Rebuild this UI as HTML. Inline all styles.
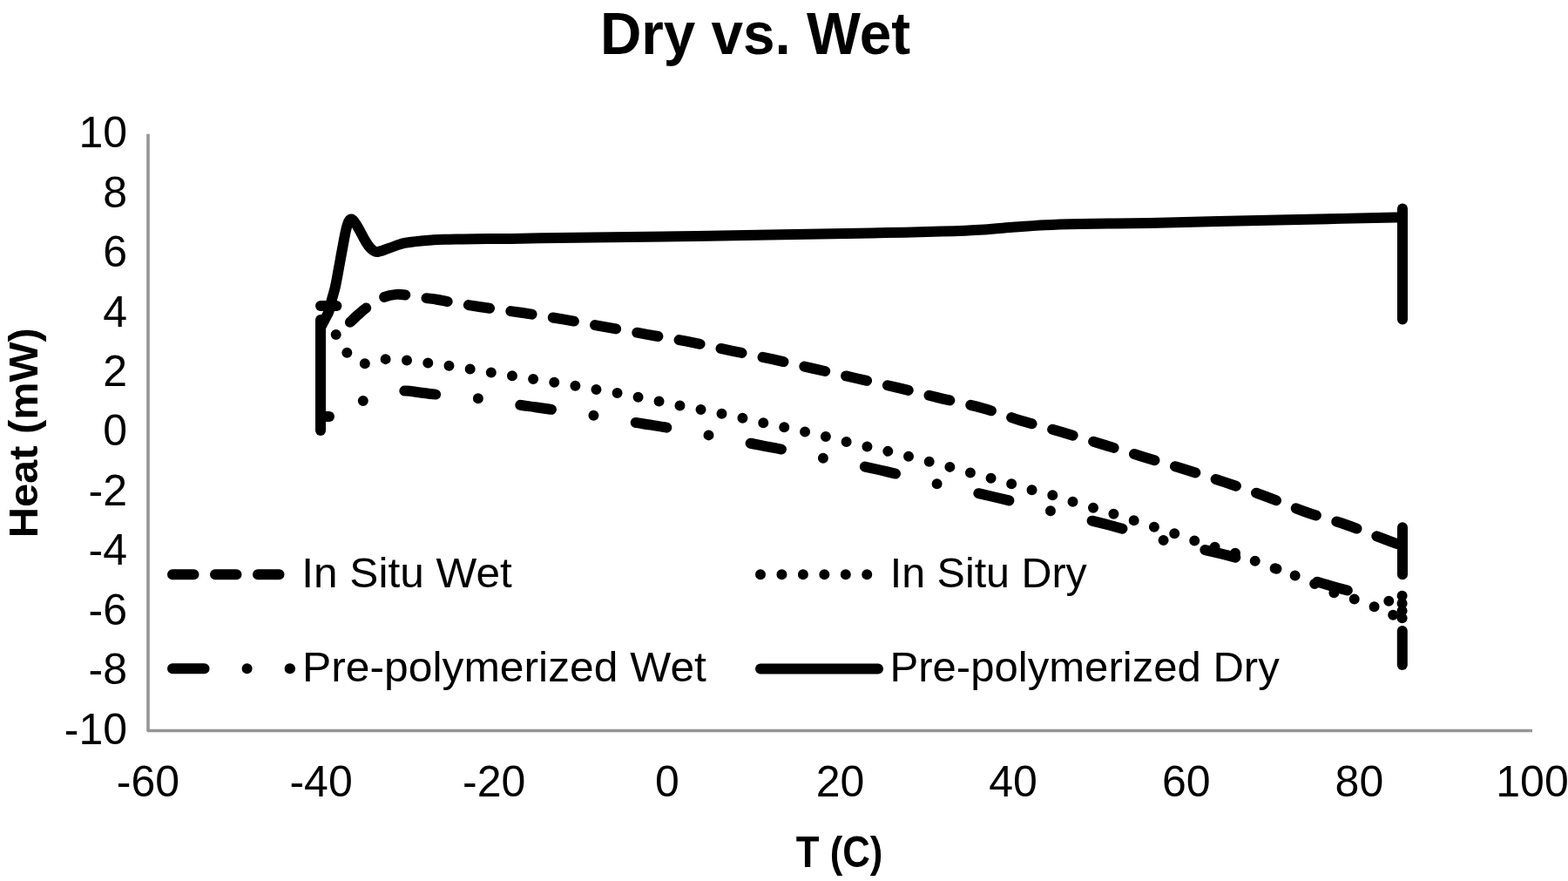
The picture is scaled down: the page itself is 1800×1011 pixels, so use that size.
<!DOCTYPE html>
<html><head><meta charset="utf-8"><title>Dry vs. Wet</title>
<style>html,body{margin:0;padding:0;background:#fff;width:1800px;height:1011px;overflow:hidden}svg{display:block}</style>
</head><body>
<svg width="1800" height="1011" viewBox="0 0 1800 1011">
<rect width="1800" height="1011" fill="#fff"/>
<path d="M170,153.7 L170,838.5 L1759,838.5" fill="none" stroke="#959595" stroke-width="3.6" stroke-linejoin="round"/>
<text id="title" x="867.0" y="62.0" style="font-family:'Liberation Sans',Arial,sans-serif;font-weight:bold;font-size:68.50px" text-anchor="middle" textLength="356.1" lengthAdjust="spacingAndGlyphs">Dry vs. Wet</text>
<text id="yl10" x="146.0" y="169.2" style="font-family:'Liberation Sans',Arial,sans-serif;font-size:50.00px" text-anchor="end">10</text>
<text id="yl8" x="146.0" y="237.6" style="font-family:'Liberation Sans',Arial,sans-serif;font-size:50.00px" text-anchor="end">8</text>
<text id="yl6" x="146.0" y="306.1" style="font-family:'Liberation Sans',Arial,sans-serif;font-size:50.00px" text-anchor="end">6</text>
<text id="yl4" x="146.0" y="374.5" style="font-family:'Liberation Sans',Arial,sans-serif;font-size:50.00px" text-anchor="end">4</text>
<text id="yl2" x="146.0" y="443.0" style="font-family:'Liberation Sans',Arial,sans-serif;font-size:50.00px" text-anchor="end">2</text>
<text id="yl0" x="146.0" y="511.4" style="font-family:'Liberation Sans',Arial,sans-serif;font-size:50.00px" text-anchor="end">0</text>
<text id="ylm2" x="146.0" y="579.8" style="font-family:'Liberation Sans',Arial,sans-serif;font-size:50.00px" text-anchor="end">-2</text>
<text id="ylm4" x="146.0" y="648.3" style="font-family:'Liberation Sans',Arial,sans-serif;font-size:50.00px" text-anchor="end">-4</text>
<text id="ylm6" x="146.0" y="716.7" style="font-family:'Liberation Sans',Arial,sans-serif;font-size:50.00px" text-anchor="end">-6</text>
<text id="ylm8" x="146.0" y="785.2" style="font-family:'Liberation Sans',Arial,sans-serif;font-size:50.00px" text-anchor="end">-8</text>
<text id="ylm10" x="146.0" y="853.6" style="font-family:'Liberation Sans',Arial,sans-serif;font-size:50.00px" text-anchor="end">-10</text>
<text id="xlm60" x="170.0" y="913.6" style="font-family:'Liberation Sans',Arial,sans-serif;font-size:50.00px" text-anchor="middle">-60</text>
<text id="xlm40" x="368.6" y="913.6" style="font-family:'Liberation Sans',Arial,sans-serif;font-size:50.00px" text-anchor="middle">-40</text>
<text id="xlm20" x="567.2" y="913.6" style="font-family:'Liberation Sans',Arial,sans-serif;font-size:50.00px" text-anchor="middle">-20</text>
<text id="xl0" x="765.9" y="913.6" style="font-family:'Liberation Sans',Arial,sans-serif;font-size:50.00px" text-anchor="middle">0</text>
<text id="xl20" x="964.5" y="913.6" style="font-family:'Liberation Sans',Arial,sans-serif;font-size:50.00px" text-anchor="middle">20</text>
<text id="xl40" x="1163.1" y="913.6" style="font-family:'Liberation Sans',Arial,sans-serif;font-size:50.00px" text-anchor="middle">40</text>
<text id="xl60" x="1361.8" y="913.6" style="font-family:'Liberation Sans',Arial,sans-serif;font-size:50.00px" text-anchor="middle">60</text>
<text id="xl80" x="1560.4" y="913.6" style="font-family:'Liberation Sans',Arial,sans-serif;font-size:50.00px" text-anchor="middle">80</text>
<text id="xl100" x="1759.0" y="913.6" style="font-family:'Liberation Sans',Arial,sans-serif;font-size:50.00px" text-anchor="middle">100</text>
<text id="ytitle" x="0.0" y="0.0" style="font-family:'Liberation Sans',Arial,sans-serif;font-weight:bold;font-size:46.50px" text-anchor="middle" textLength="241.0" lengthAdjust="spacingAndGlyphs" transform="translate(42.50,496.70) rotate(-90)">Heat (mW)</text>
<text id="xtitle" x="963.6" y="994.9" style="font-family:'Liberation Sans',Arial,sans-serif;font-weight:bold;font-size:49.50px" text-anchor="middle" textLength="99.5" lengthAdjust="spacingAndGlyphs">T (C)</text>
<text id="lg1" x="346.2" y="674.2" style="font-family:'Liberation Sans',Arial,sans-serif;font-size:49.00px" text-anchor="start" textLength="241.6" lengthAdjust="spacingAndGlyphs">In Situ Wet</text>
<text id="lg2" x="1021.8" y="674.4" style="font-family:'Liberation Sans',Arial,sans-serif;font-size:49.00px" text-anchor="start" textLength="225.9" lengthAdjust="spacingAndGlyphs">In Situ Dry</text>
<text id="lg3" x="347.0" y="782.4" style="font-family:'Liberation Sans',Arial,sans-serif;font-size:49.00px" text-anchor="start" textLength="463.9" lengthAdjust="spacingAndGlyphs">Pre-polymerized Wet</text>
<text id="lg4" x="1021.5" y="781.9" style="font-family:'Liberation Sans',Arial,sans-serif;font-size:49.00px" text-anchor="start" textLength="447.2" lengthAdjust="spacingAndGlyphs">Pre-polymerized Dry</text>
<g id="series" fill="none" stroke="#000" stroke-width="12" stroke-linecap="round" stroke-linejoin="round">
<path d="M368,494 L368,367"/>
<path d="M369.0,374.0 C370.4,371.3 371.8,368.7 373.2,366.0 C374.7,363.0 376.5,360.2 377.6,357.0 C379.1,352.6 379.8,348.0 381.0,343.5 C382.2,339.0 383.7,334.5 384.7,330.0 C386.0,324.4 386.9,318.7 388.0,313.0 C390.2,301.2 392.2,289.3 394.5,277.5 C395.7,271.3 396.6,265.0 398.5,259.0 C399.4,256.3 400.1,252.4 402.8,251.5 C404.9,250.8 406.4,254.2 407.8,256.0 C410.0,259.0 411.7,262.4 413.5,265.6 C415.7,269.5 417.6,273.7 420.0,277.5 C421.6,280.1 423.3,282.8 425.5,285.0 C427.3,286.7 429.4,289.0 431.9,289.0 C436.8,289.0 441.3,286.4 446.0,285.0 C452.2,283.1 458.0,280.1 464.4,278.9 C475.4,276.8 486.6,276.1 497.8,275.3 C508.8,274.6 519.9,274.6 531.0,274.4 C549.6,274.1 568.1,274.1 586.7,273.9 C597.8,273.8 608.9,273.5 620.0,273.3 C680.0,272.5 740.0,271.8 800.0,270.9 C866.7,269.9 933.3,268.7 1000.0,267.4 C1026.7,266.9 1053.3,266.4 1080.0,265.6 C1096.7,265.1 1113.3,264.5 1130.0,263.5 C1141.7,262.8 1153.3,261.5 1165.0,260.6 C1176.7,259.7 1188.3,258.8 1200.0,258.2 C1213.3,257.6 1226.7,257.3 1240.0,257.0 C1266.7,256.5 1293.3,256.4 1320.0,255.9 C1372.7,254.8 1425.3,253.4 1478.0,252.2 C1519.3,251.3 1560.7,250.4 1602.0,249.6 C1604.7,249.5 1607.3,249.6 1610.0,249.6"/>
<path d="M1610,239.6 L1610,366.4"/>
<path d="M368,351 L386.4,351"/>
<path d="M401.9,369.8 C404.9,366.9 407.9,364.0 411.0,361.2 C414.3,358.3 417.6,355.2 421.3,352.7 C427.4,348.6 433.5,344.3 440.3,341.3 C444.9,339.3 450.0,338.4 455.0,337.9 C459.0,337.5 463.0,338.2 467.0,338.7 C474.1,339.6 481.2,341.0 488.3,342.0 C492.7,342.6 497.2,343.0 501.6,343.7 C506.1,344.4 510.5,345.5 515.0,346.3 C526.7,348.3 538.3,350.2 550.0,352.0 C566.1,354.4 582.2,356.4 598.3,358.8 C614.3,361.2 630.3,363.7 646.3,366.4 C662.3,369.1 678.3,372.2 694.3,375.1 C710.5,378.0 726.8,380.9 743.0,383.8 C759.7,386.8 776.4,389.4 793.0,392.6 C808.3,395.6 823.5,399.2 838.8,402.4 C854.7,405.7 870.7,408.8 886.6,412.2 C902.6,415.7 918.5,419.5 934.5,423.1 C950.5,426.7 966.4,430.4 982.4,434.0 C998.4,437.6 1014.4,441.1 1030.3,444.9 C1045.9,448.6 1061.5,452.6 1077.1,456.4 C1094.1,460.5 1111.4,463.8 1128.3,468.5 C1143.1,472.6 1157.5,478.2 1172.2,482.7 C1187.6,487.3 1203.1,491.3 1218.5,495.8 C1234.3,500.4 1250.1,505.2 1265.9,510.0 C1281.3,514.7 1296.8,519.5 1312.2,524.2 C1328.0,529.0 1343.9,533.6 1359.7,538.5 C1375.2,543.3 1390.6,548.3 1406.0,553.4 C1421.5,558.5 1436.9,563.7 1452.2,569.3 C1467.9,575.1 1483.1,581.9 1498.8,587.5 C1514.0,592.9 1529.6,596.8 1544.8,602.0 C1558.0,606.5 1570.9,611.8 1583.9,616.7 C1592.6,620.0 1601.3,623.2 1610.0,626.5" stroke-dasharray="24.5 24.5"/>
<path d="M1610,605.2 L1610,659.3"/>
<path d="M385.7,383.9 C389.9,390.8 392.6,398.8 398.2,404.6 C403.5,410.1 410.0,415.8 417.6,417.1 C425.6,418.5 433.4,412.8 441.5,412.2 C449.5,411.6 457.6,412.6 465.6,413.3 C473.8,414.0 482.0,415.3 490.2,416.4 C498.3,417.5 506.3,418.5 514.4,419.7 C522.5,420.9 530.5,422.1 538.6,423.4 C546.7,424.7 554.9,426.0 563.0,427.3 C571.0,428.6 578.9,429.7 586.9,431.0 C595.0,432.3 603.2,433.6 611.3,434.9 C619.3,436.2 627.2,437.3 635.2,438.6 C643.3,439.9 651.3,441.1 659.4,442.5 C667.4,443.9 675.3,445.5 683.3,446.9 C691.3,448.3 699.3,449.4 707.2,450.8 C715.4,452.3 723.5,454.0 731.6,455.6 C739.6,457.2 747.6,458.8 755.6,460.4 C763.6,462.0 771.5,463.8 779.5,465.4 C787.6,467.0 795.8,468.3 803.9,469.9 C811.9,471.4 819.9,473.1 827.9,474.7 C835.9,476.3 843.8,478.0 851.8,479.7 C859.8,481.4 867.8,483.4 875.8,485.1 C883.8,486.8 891.7,488.4 899.7,490.1 C907.7,491.8 915.6,493.6 923.6,495.4 C931.6,497.2 939.6,499.1 947.6,501.0 C955.4,502.9 963.2,505.0 971.1,506.9 C979.0,508.8 987.0,510.5 995.0,512.3 C1003.0,514.1 1011.0,515.9 1019.0,517.8 C1026.9,519.7 1034.8,521.7 1042.7,523.7 C1050.5,525.7 1058.4,527.7 1066.2,529.7 C1074.2,531.7 1082.2,533.7 1090.1,535.8 C1097.9,537.9 1105.6,540.3 1113.4,542.4 C1121.2,544.5 1129.0,546.4 1136.8,548.5 C1144.8,550.6 1152.8,552.8 1160.8,555.1 C1168.6,557.4 1176.3,560.0 1184.1,562.2 C1191.9,564.4 1200.0,565.9 1207.8,568.1 C1215.7,570.4 1223.3,573.3 1231.1,575.7 C1238.7,578.1 1246.4,580.1 1254.1,582.4 C1262.0,584.7 1269.9,587.1 1277.8,589.5 C1285.7,592.0 1293.6,594.5 1301.5,597.1 C1309.0,599.5 1316.6,602.1 1324.1,604.5 C1332.0,607.0 1340.0,609.3 1347.8,612.0 C1355.6,614.6 1363.3,617.8 1371.1,620.4 C1378.7,622.9 1386.4,625.2 1394.1,627.5 C1402.0,629.9 1410.0,631.9 1417.8,634.6 C1425.5,637.3 1432.8,640.7 1440.4,643.6 C1448.3,646.6 1456.2,649.5 1464.1,652.4 C1471.5,655.1 1479.0,657.5 1486.4,660.4 C1494.0,663.4 1501.5,666.7 1509.0,670.0 C1516.3,673.2 1523.3,677.2 1530.7,680.0 C1538.6,683.0 1547.0,684.8 1555.0,687.6 C1562.6,690.2 1570.1,693.1 1577.6,696.2 C1584.9,699.2 1592.0,702.5 1599.2,705.7" stroke-dasharray="0 24.45"/>
<path d="M1609.6,683.7 l0,0.01"/>
<path d="M1609.6,692.5 l0,0.01"/>
<path d="M1609.6,701 l0,0.01"/>
<path d="M1609.6,709.3 l0,0.01"/>
<path d="M368,478 L378,478"/>
<path d="M416.8,460.0 C424.5,457.6 432.1,454.7 440.0,452.8 C448.1,450.9 456.2,449.1 464.5,448.6 C469.9,448.3 475.3,449.6 480.7,450.2 C486.1,450.8 491.6,451.7 497.0,452.3 C513.8,454.0 530.6,455.0 547.3,457.1 C564.4,459.2 581.3,462.4 598.3,465.0 C603.7,465.8 609.2,466.4 614.6,467.2 C620.4,468.0 626.2,468.9 632.0,469.7 C648.1,472.0 664.3,474.1 680.4,476.6 C697.3,479.2 714.1,482.4 731.0,485.2 C736.5,486.1 741.9,486.8 747.4,487.7 C752.9,488.6 758.5,489.4 764.0,490.4 C780.4,493.3 796.8,496.2 813.1,499.3 C830.6,502.6 848.0,506.1 865.4,509.5 C870.2,510.4 874.9,511.4 879.7,512.3 C884.5,513.2 889.2,514.0 894.0,515.0 C911.1,518.5 928.3,522.2 945.4,525.8 C967.2,530.4 989.0,534.6 1010.7,539.5 C1032.7,544.5 1054.5,550.2 1076.4,555.4 C1098.2,560.6 1120.2,565.3 1142.0,570.5 C1164.0,575.7 1185.9,581.3 1207.8,586.7 C1229.5,592.0 1251.4,596.9 1273.0,602.5 C1294.5,608.1 1315.6,614.9 1337.1,620.4 C1358.9,626.0 1381.1,630.2 1403.0,635.7 C1424.1,641.0 1445.1,646.9 1466.0,653.0 C1487.1,659.2 1507.8,666.7 1529.0,672.7 C1551.5,679.1 1574.2,684.4 1596.8,690.3" stroke-dasharray="0 49 36 49"/>
<path d="M1609.8,724 L1609.8,763"/>
<path d="M1599.2,705.7 l0,0.01"/>
</g>
<g id="legend" fill="none" stroke="#000" stroke-width="12" stroke-linecap="round" stroke-linejoin="round">
<path d="M198,659.2 L333,659.2" stroke-dasharray="24.5 24.5"/>
<path d="M873,659.2 L1008,659.2" stroke-dasharray="0 24.45"/>
<path d="M198,767.3 L333,767.3" stroke-dasharray="36.6 49 0 49"/>
<path d="M873,767.5 L1008,767.5"/>
</g>
</svg>
</body></html>
